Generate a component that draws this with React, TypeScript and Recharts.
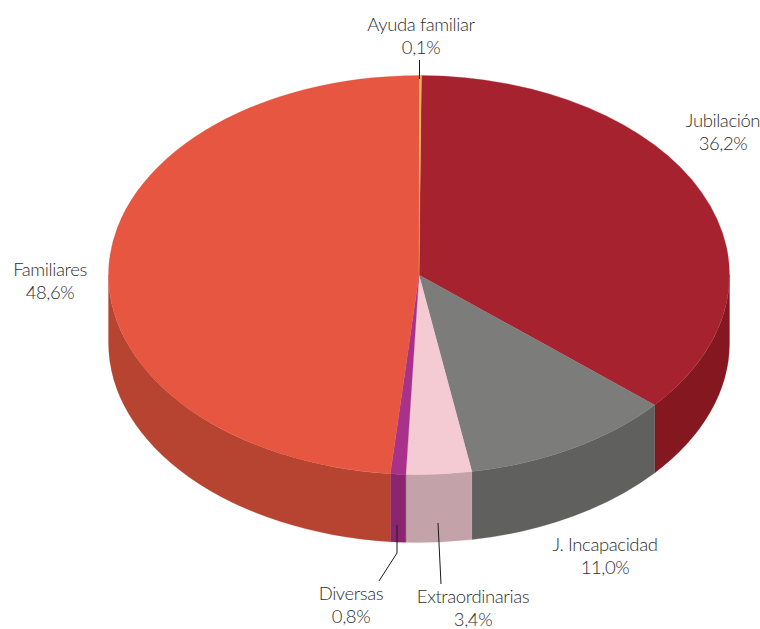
import React from "react";
import { PieChart, Pie } from "recharts";

const categories = ["Jubilación", "J. Incapacidad", "Extraordinarias", "Diversas", "Familiares", "Ayuda familiar"];
const shares = [36.2, 11.0, 3.4, 0.8, 48.6, 0.1];
const shareLabels = ["36,2%", "11,0%", "3,4%", "0,8%", "48,6%", "0,1%"];
const topColors = ["#A6222E", "#7C7C7A", "#F5CBD3", "#A83289", "#E75640", "#E5B85C"];
const wallColors = ["#84171F", "#60605E", "#C4A2A9", "#8A2670", "#B64430", "#B8923F"];

const data = categories.map((name, i) => ({ name, value: shares[i], fill: topColors[i], wall: wallColors[i] }));

const SQUASH = 199.5 / 310.5;
const DEPTH = 68;
const FONT_SIZE = 18.5;
const LINE_GAP = 22.5;

const labelAnchors: [number, number][] = [
  [723, 127], [605, 551], [473, 603], [351, 600], [50, 276], [421, 31],
];
const leaders: ([number, number][] | null)[] = [
  null,
  null,
  [[438, 523], [441, 584]],
  [[397, 525], [397, 553], [379, 581]],
  null,
  [[419.5, 60], [419.5, 79]],
];

const rad = (d: number) => (d * Math.PI) / 180;

function Slice3D(props: any) {
  const { cx, cy, outerRadius: r, startAngle, endAngle, fill, wall } = props;
  const ry = r * SQUASH;
  const pt = (a: number, dy = 0) => `${cx + r * Math.cos(rad(a))} ${cy - ry * Math.sin(rad(a)) + dy}`;
  const hi = Math.max(startAngle, endAngle);
  const lo = Math.min(startAngle, endAngle);
  const large = hi - lo > 180 ? 1 : 0;
  const top = `M ${cx} ${cy} L ${pt(hi)} A ${r} ${ry} 0 ${large} 1 ${pt(lo)} Z`;
  const walls: string[] = [];
  for (const [wHi, wLo] of [[0, -180], [-360, -540]]) {
    const a = Math.min(hi, wHi);
    const b = Math.max(lo, wLo);
    if (a > b) {
      const l = a - b > 180 ? 1 : 0;
      walls.push(
        `M ${pt(a)} A ${r} ${ry} 0 ${l} 1 ${pt(b)} L ${pt(b, DEPTH)} A ${r} ${ry} 0 ${l} 0 ${pt(a, DEPTH)} Z`
      );
    }
  }
  return (
    <g>
      {walls.map((d, i) => <path key={i} d={d} fill={wall} stroke={wall} strokeWidth={0.3} />)}
      <path d={top} fill={fill} stroke={fill} strokeWidth={0.3} />
    </g>
  );
}

function SliceLabel(props: any) {
  const i: number = props.index;
  const [x, y] = labelAnchors[i];
  const line = leaders[i];
  return (
    <g>
      {line && (
        <polyline
          points={line.map((p) => p.join(",")).join(" ")}
          fill="none"
          stroke="#1a1a1a"
          strokeWidth={1}
        />
      )}
      <text
        x={x}
        y={y}
        textAnchor="middle"
        fontFamily="Lato, 'Open Sans', sans-serif"
        fontWeight={300}
        fontSize={FONT_SIZE}
        letterSpacing={-0.4}
        fill="#2e2e2e"
        opacity={0.999}
      >
        <tspan x={x}>{categories[i]}</tspan>
        <tspan x={x} dy={LINE_GAP}>{shareLabels[i]}</tspan>
      </text>
    </g>
  );
}

export default function App() {
  return (
    <div style={{ position: "absolute", left: 0, top: 0, width: 760, height: 629 }}>
      <PieChart width={760} height={629} margin={{ top: 0, right: 0, bottom: 0, left: 0 }}>
        <Pie
          data={data}
          dataKey="value"
          nameKey="name"
          cx={419}
          cy={275}
          innerRadius={0}
          outerRadius={310.5}
          startAngle={89.55}
          endAngle={-270.45}
          paddingAngle={0}
          stroke="none"
          isAnimationActive={false}
          shape={Slice3D}
          label={SliceLabel}
          labelLine={false}
        />
      </PieChart>
    </div>
  );
}
